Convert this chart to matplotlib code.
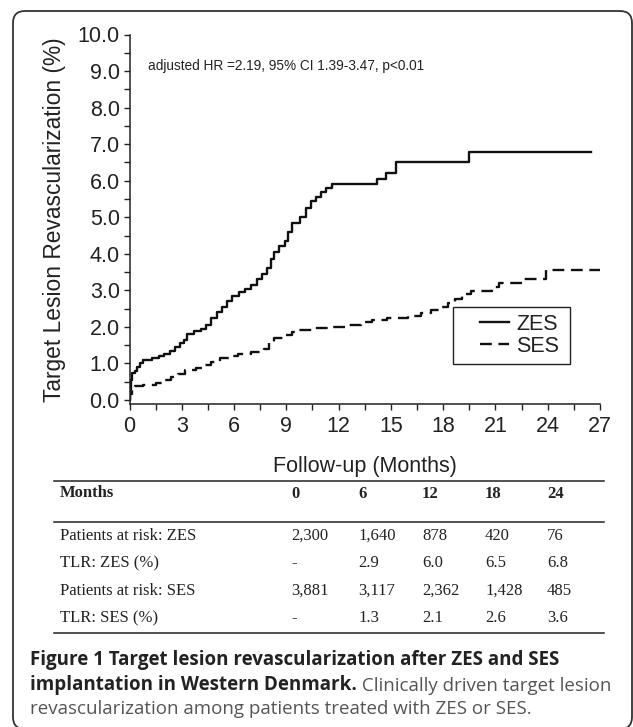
import matplotlib
matplotlib.use("Agg")
import numpy as np
import matplotlib.pyplot as plt
from matplotlib.patches import FancyBboxPatch
from matplotlib.ticker import MultipleLocator, FormatStrFormatter

# ---- data ----
zes_t = [0.0, 0.05, 0.1, 0.15, 0.3, 0.45, 0.6, 0.75, 1.3, 1.7, 2.0, 2.3, 2.6, 2.9, 3.1, 3.3,
         3.7, 4.1, 4.4, 4.7, 5.0, 5.3, 5.6, 5.9, 6.3, 6.6, 7.0, 7.3, 7.6, 7.9, 8.1, 8.3,
         8.6, 8.9, 9.1, 9.3, 9.8, 10.1, 10.4, 10.7, 11.0, 11.3, 11.6, 14.2, 14.7, 15.3,
         19.5, 26.5]
zes_v = [0.0, 0.3, 0.55, 0.75, 0.8, 0.9, 1.0, 1.1, 1.15, 1.2, 1.25, 1.35, 1.45, 1.55, 1.65, 1.8,
         1.9, 1.95, 2.05, 2.25, 2.4, 2.55, 2.7, 2.85, 2.95, 3.05, 3.15, 3.3, 3.45, 3.6, 3.85, 4.05,
         4.2, 4.35, 4.6, 4.85, 5.0, 5.25, 5.45, 5.55, 5.7, 5.8, 5.92, 6.05, 6.2, 6.5,
         6.78, 6.78]

ses_t = [0.0, 0.05, 0.15, 0.3, 0.8, 1.5, 2.0, 2.4, 2.8, 3.2, 3.8, 4.3, 4.7, 5.2, 5.7, 6.2,
         7.0, 7.7, 8.0, 8.3, 8.8, 9.3, 9.7, 10.5, 11.5, 12.5, 13.3, 13.9, 14.8, 16.0, 16.7,
         17.3, 17.8, 18.3, 18.7, 19.1, 19.6, 20.8, 21.2, 22.6, 23.9, 27.0]
ses_v = [0.0, 0.15, 0.3, 0.38, 0.42, 0.47, 0.55, 0.62, 0.7, 0.82, 0.88, 0.95, 1.05, 1.15, 1.2, 1.25,
         1.3, 1.4, 1.55, 1.7, 1.78, 1.85, 1.92, 1.96, 2.0, 2.05, 2.12, 2.18, 2.24, 2.3, 2.38,
         2.45, 2.55, 2.65, 2.75, 2.9, 2.98, 3.1, 3.2, 3.3, 3.55, 3.55]

table_months = ["0", "6", "12", "18", "24"]
table_rows = ["Patients at risk: ZES", "TLR: ZES (%)", "Patients at risk: SES", "TLR: SES (%)"]
risk_zes = ["2,300", "1,640", "878", "420", "76"]
tlr_zes = ["-", "2.9", "6.0", "6.5", "6.8"]
risk_ses = ["3,881", "3,117", "2,362", "1,428", "485"]
tlr_ses = ["-", "1.3", "2.1", "2.6", "3.6"]

W, H = 633, 727
fig = plt.figure(figsize=(W / 100, H / 100), dpi=100)

# background axes in pixel units (border, table, caption)
bg = fig.add_axes([0, 0, 1, 1])
bg.set_xlim(0, W)
bg.set_ylim(H, 0)
bg.axis("off")
bg.add_patch(FancyBboxPatch((13, 11), 619, 718, boxstyle="round,pad=0,rounding_size=12",
                            fc="white", ec="#333333", lw=1.3))

# ---- KM plot ----
sans = "Liberation Sans"
ax = fig.add_axes([129.5 / W, 1 - 404 / H, 470.5 / W, 369.5 / H])
ax.step(zes_t, zes_v, where="post", color="#111111", lw=1.7, label="ZES")
ax.step(ses_t, ses_v, where="post", color="#111111", lw=1.7, ls=(0, (5, 2.8)), label="SES")
ax.set_xlim(0, 27)
ax.set_ylim(-0.11, 10)
for s in ["top", "right"]:
    ax.spines[s].set_visible(False)
for s in ["left", "bottom"]:
    ax.spines[s].set_linewidth(1.1)
    ax.spines[s].set_color("#222222")
ax.xaxis.set_major_locator(MultipleLocator(3))
ax.xaxis.set_minor_locator(MultipleLocator(1.5))
ax.yaxis.set_major_locator(MultipleLocator(1))
ax.yaxis.set_minor_locator(MultipleLocator(0.5))
ax.yaxis.set_major_formatter(FormatStrFormatter("%.1f"))
ax.tick_params(which="both", length=4, width=1, color="#222222")
ax.tick_params(axis="x", pad=5)
ax.tick_params(axis="y", pad=3)
for lab in ax.get_xticklabels() + ax.get_yticklabels():
    lab.set_fontfamily(sans)
    lab.set_fontsize(15.5)
    lab.set_color("#222222")

ax.set_ylabel("Target Lesion Revascularization (%)", fontsize=16.4, family=sans, color="#222222")
ax.yaxis.set_label_coords(-0.135, 0.5)
ax.set_xlabel("Follow-up (Months)", fontsize=15.5, family=sans, color="#222222", va="top")
ax.xaxis.set_label_coords(0.5, -0.14)

ax.text(0.039, 0.915, "adjusted HR =2.19, 95% CI 1.39-3.47, p<0.01", transform=ax.transAxes,
        fontsize=9.8, family=sans, color="#222222", va="center", ha="left")

leg = ax.legend(loc="upper left", bbox_to_anchor=(0.6876, 0.1025, 0.2487, 0.16), mode="expand",
                frameon=True, fancybox=False, edgecolor="#222222",
                framealpha=1, prop={"family": sans, "size": 15.5}, handlelength=2.3,
                handletextpad=0.3, borderpad=0.32, labelspacing=0.05, borderaxespad=0)
leg.get_frame().set_linewidth(1.0)
for t in leg.get_texts():
    t.set_color("#222222")
# shorter visible handle lines, pushed to the right like the original key
for h in leg.legend_handles:
    xd = np.asarray(h.get_xdata(), dtype=float)
    h.set_xdata(np.linspace(xd[0] + (xd[-1] - xd[0]) * 0.4, xd[-1], len(xd)))

# ---- table ----
serif = "Liberation Serif"
tfs = 12
x0, x1 = 54, 604
col_x = [291, 358, 422, 485, 547]
bg.plot([x0, x1], [481, 481], color="#222222", lw=1.1)
bg.plot([x0, x1], [522, 522], color="#222222", lw=1.1)
bg.plot([x0, x1], [633, 633], color="#222222", lw=1.1)
bg.text(60, 493, "Months", family=serif, weight="bold", fontsize=tfs, va="center", color="#222222")
for cx, m in zip(col_x, table_months):
    bg.text(cx, 494, m, family=serif, weight="bold", fontsize=tfs, va="center", color="#222222")
row_y = [536, 563, 591, 618]
for ry, name, vals in zip(row_y, table_rows, [risk_zes, tlr_zes, risk_ses, tlr_ses]):
    bg.text(60, ry, name, family=serif, fontsize=tfs, va="center", color="#222222")
    for cx, v in zip(col_x, vals):
        bg.text(cx, ry, v, family=serif, fontsize=tfs, va="center", color="#222222")

# ---- caption ----
cap = "Open Sans"
cfs = 13.5
bg.text(30, 665, "Figure 1 Target lesion revascularization after ZES and SES",
        family=cap, weight="bold", fontsize=cfs, va="baseline", color="#222222")
b2 = bg.text(30, 690, "implantation in Western Denmark.",
             family=cap, weight="bold", fontsize=cfs, va="baseline", color="#222222")
bg.annotate(" Clinically driven target lesion", xy=(1, 0), xycoords=b2, va="bottom",
            family=cap, fontsize=cfs, color="#555555")
bg.text(30, 714, "revascularization among patients treated with ZES or SES.",
        family=cap, fontsize=cfs, va="baseline", color="#555555")

fig.savefig("out.png", dpi=100)
